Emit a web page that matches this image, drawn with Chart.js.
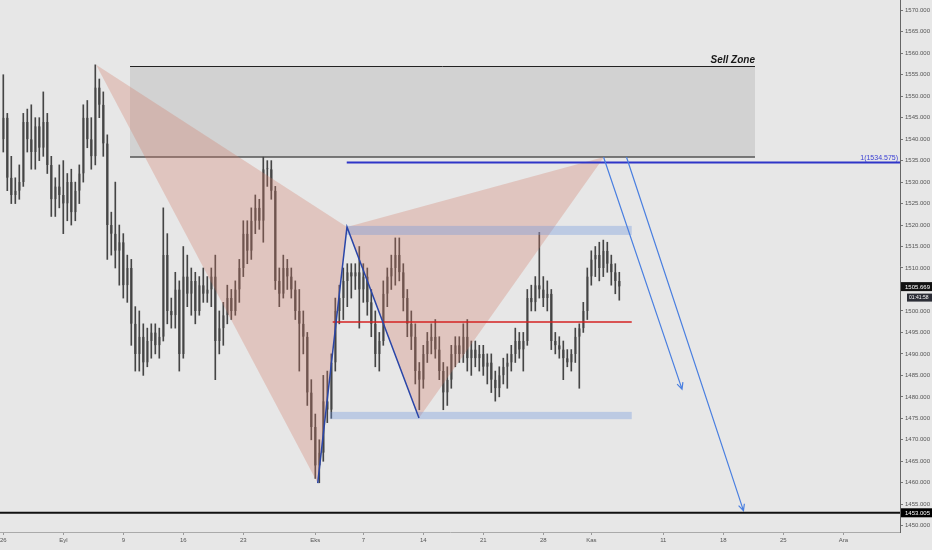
<!DOCTYPE html>
<html>
<head>
<meta charset="utf-8">
<script src="https://cdn.jsdelivr.net/npm/chart.js@4.4.1/dist/chart.umd.min.js"></script>
<style>
    html, body {margin: 0; padding: 0; background: #e7e7e7;}
    #chart {display: block;}
</style>
</head>
<body>
<canvas id="chart" width="932" height="550"></canvas>
<script>
// Свечи XAUUSD, по 3 на торговый день (индекс дня от 26 авг.)
const opens = [
    1540,1545,1531,1527,1528,1530,1544,1540,1537,1543,
    1538,1544,1534,1526,1529,1527,1525,1530,1523,1528,
    1532,1545,1540,1536,1552,1548,1539,1520,1518,1514,
    1516,1506,1510,1497,1490,1494,1488,1493,1495,1492,
    1494,1513,1500,1499,1505,1490,1508,1504,1507,1500,
    1506,1504,1505,1508,1493,1496,1499,1503,1500,1505,
    1510,1518,1514,1521,1524,1521,1533,1533,1528,1507,
    1504,1510,1508,1505,1500,1497,1494,1481,1473,1464,
    1467,1479,1477,1488,1500,1503,1507,1509,1508,1509,
    1505,1508,1502,1497,1490,1493,1504,1508,1510,1513,
    1509,1503,1497,1494,1486,1484,1490,1493,1494,1491,
    1486,1481,1484,1490,1492,1490,1494,1489,1491,1489,
    1490,1487,1488,1484,1482,1485,1487,1488,1490,1493,
    1491,1493,1503,1502,1506,1505,1503,1504,1493,1492,
    1491,1489,1488,1490,1494,1496,1500,1508,1512,1513,
    1510,1514,1511,1509,1507
]
const highs = [
    1555,1546,1536,1531,1534,1546,1547,1548,1545,1545,
    1551,1546,1536,1531,1534,1535,1532,1533,1530,1534,
    1548,1549,1545,1557.3,1554,1551,1541,1523,1530,1520,
    1518,1513,1512,1501,1500,1497,1496,1497,1497,1496,
    1524,1518,1503,1509,1507,1515,1513,1510,1509,1508,
    1510,1508,1510,1513,1500,1502,1506,1505,1507,1512,
    1521,1521,1524,1527,1526,1535.8,1535,1535,1529,1510,
    1513,1512,1510,1507,1505,1500,1495,1484,1476,1470,
    1485,1486,1490,1503,1506,1510,1511,1511,1511,1515,
    1511,1510,1505,1500,1495,1507,1510,1513,1517,1517,
    1511,1505,1500,1497,1488,1492,1495,1497,1498,1494,
    1488,1487,1492,1494,1494,1497,1498,1493,1493,1492,
    1492,1490,1490,1486,1487,1489,1490,1492,1496,1495,
    1495,1505,1506,1508,1518.3,1508,1507,1505,1495,1494,
    1493,1491,1491,1496,1497,1502,1510,1514,1515,1516,
    1516.5,1516,1513,1511,1509
]
const lows = [
    1537,1528,1525,1525,1526,1529,1537,1533,1533,1535,
    1536,1532,1522,1522,1524,1518,1521,1520,1521,1525,
    1530,1538,1533,1534,1545,1536,1512,1513,1510,1506,
    1503,1502,1492,1486,1486,1485,1487,1489,1490,1489,
    1493,1497,1496,1496,1486,1489,1501,1499,1497,1499,
    1502,1502,1501,1484,1490,1492,1497,1498,1499,1502,
    1508,1511,1512,1518,1519,1516,1529,1526,1505,1501,
    1503,1505,1503,1498,1486,1490,1478,1470,1461,1460,
    1465,1474,1475,1486,1497,1498,1501,1503,1505,1496,
    1502,1499,1494,1487,1486,1492,1501,1505,1506,1507,
    1500,1494,1491,1483,1477,1482,1488,1490,1489,1484,
    1477,1478,1482,1487,1488,1488,1486,1485,1487,1486,
    1485,1483,1481,1479,1480,1483,1482,1486,1488,1489,
    1486,1492,1500,1500,1503,1501,1500,1491,1490,1489,
    1484,1487,1486,1488,1482,1495,1498,1506,1508,1507,
    1508,1509,1506,1504,1502.5
]
const closes = [
    1545,1531,1527,1528,1530,1544,1540,1537,1543,1538,
    1544,1534,1526,1529,1527,1525,1530,1523,1528,1532,
    1545,1540,1536,1552,1548,1539,1520,1518,1514,1516,
    1506,1510,1497,1490,1494,1488,1493,1495,1492,1494,
    1513,1500,1499,1505,1490,1508,1504,1507,1500,1506,
    1504,1505,1508,1493,1496,1499,1503,1500,1505,1510,
    1518,1514,1521,1524,1521,1533,1533,1528,1507,1504,
    1510,1508,1505,1500,1497,1494,1481,1473,1464,1467,
    1479,1477,1488,1500,1503,1507,1509,1508,1509,1505,
    1508,1502,1497,1490,1493,1504,1508,1510,1513,1509,
    1503,1497,1494,1486,1484,1490,1493,1494,1491,1486,
    1481,1484,1490,1492,1490,1494,1489,1491,1489,1490,
    1487,1488,1484,1482,1485,1487,1488,1490,1493,1491,
    1493,1503,1502,1506,1505,1503,1504,1493,1492,1491,
    1489,1488,1490,1494,1496,1500,1508,1512,1513,1510,
    1514,1511,1509,1507,1505.669
]

// Подписи оси времени (индекс торгового дня)
const xTickDays = [0, 5, 10, 15, 20, 26, 30, 35, 40, 45, 49, 55, 60, 65, 70]
const xTickLabels = ['26', 'Eyl', '9', '16', '23', 'Eks', '7', '14', '21', '28', 'Kas', '11', '18', '25', 'Ara']
const yTickVals = [1450, 1455, 1460, 1465, 1470, 1475, 1480, 1485, 1490, 1495, 1500, 1505, 1510,
    1515, 1520, 1525, 1530, 1535, 1540, 1545, 1550, 1555, 1560, 1565, 1570]

// Разметка: зона продаж, паттерн XABCD, уровни, стрелки
const zoneDays = [10.56, 62.64]
const zonePrices = [1535.84, 1557.03]
const patternDays = [7.73, 26.2, 28.64, 34.64, 50.06]
const patternPrices = [1557.3, 1459.9, 1519.55, 1475.1, 1535.84]
const bandDays = [28.64, 52.37]
const topBand = [1517.7, 1519.8]
const lowBandDays = [27.2, 52.37]
const lowBand = [1474.8, 1476.5]
const redLevel = 1497.4
const redDays = [27.45, 52.37]
const fibLevel = 1534.575
const fibStartDay = 28.62
const targetLevel = 1453.005
const arrows = [
    {from: [50.02, 1535.84], to: [56.56, 1481.8]},
    {from: [51.93, 1535.84], to: [61.68, 1453.5]},
]
const lastPrice = 1505.669
const countdown = '01:41:58'

const candleDays = closes.map((c, i) => i / 3)

const drawings = {
    id: 'drawings',
    beforeDraw(chart) {
        const c = chart.ctx
        c.save()
        c.fillStyle = '#e7e7e7'
        c.fillRect(0, 0, chart.width, chart.height)
        c.restore()
    },
    beforeDatasetsDraw(chart) {
        const {ctx: c, scales: {x, y}} = chart
        const x1 = x.getPixelForValue(zoneDays[0]), x2 = x.getPixelForValue(zoneDays[1])
        const yTop = y.getPixelForValue(zonePrices[1]), yBot = y.getPixelForValue(zonePrices[0])
        c.save()
        c.fillStyle = 'rgba(185,185,185,0.45)'
        c.fillRect(x1, yTop, x2 - x1, yBot - yTop)
        c.strokeStyle = '#222'
        c.lineWidth = 1
        c.beginPath()
        c.moveTo(x1, Math.round(yTop) + 0.5)
        c.lineTo(x2, Math.round(yTop) + 0.5)
        c.stroke()
        c.strokeStyle = '#555'
        c.lineWidth = 1.5
        c.beginPath()
        c.moveTo(x1, yBot)
        c.lineTo(x2, yBot)
        c.stroke()
        c.restore()
    },
    afterDatasetsDraw(chart) {
        const {ctx: c, scales: {x, y}, chartArea} = chart
        const px = i => x.getPixelForValue(patternDays[i])
        const py = i => y.getPixelForValue(patternPrices[i])
        c.save()

        // Треугольники паттерна
        c.fillStyle = 'rgba(210,120,100,0.3)'
        ;[[0, 1, 2], [2, 3, 4]].forEach(tri => {
            c.beginPath()
            c.moveTo(px(tri[0]), py(tri[0]))
            c.lineTo(px(tri[1]), py(tri[1]))
            c.lineTo(px(tri[2]), py(tri[2]))
            c.closePath()
            c.fill()
        })

        // Синие полосы
        c.fillStyle = 'rgba(110,150,220,0.35)'
        let bx1 = x.getPixelForValue(bandDays[0]), bx2 = x.getPixelForValue(bandDays[1])
        let by1 = y.getPixelForValue(topBand[1]), by2 = y.getPixelForValue(topBand[0])
        c.fillRect(bx1, by1, bx2 - bx1, by2 - by1)
        bx1 = x.getPixelForValue(lowBandDays[0])
        bx2 = x.getPixelForValue(lowBandDays[1])
        by1 = y.getPixelForValue(lowBand[1])
        by2 = y.getPixelForValue(lowBand[0])
        c.fillRect(bx1, by1, bx2 - bx1, by2 - by1)

        // Красный уровень
        c.strokeStyle = '#d42222'
        c.lineWidth = 1.5
        c.beginPath()
        c.moveTo(x.getPixelForValue(redDays[0]), y.getPixelForValue(redLevel))
        c.lineTo(x.getPixelForValue(redDays[1]), y.getPixelForValue(redLevel))
        c.stroke()

        // Линии A-B-C
        c.strokeStyle = '#2a46a8'
        c.lineWidth = 1.5
        c.beginPath()
        c.moveTo(px(1), py(1))
        c.lineTo(px(2), py(2))
        c.lineTo(px(3), py(3))
        c.stroke()

        // Уровень 1(1534.575)
        const fy = y.getPixelForValue(fibLevel)
        c.strokeStyle = '#2f35c8'
        c.lineWidth = 2
        c.beginPath()
        c.moveTo(x.getPixelForValue(fibStartDay), fy)
        c.lineTo(chartArea.right, fy)
        c.stroke()
        c.fillStyle = '#3b40d4'
        c.font = '7px "Liberation Sans", Arial, sans-serif'
        c.textAlign = 'right'
        c.textBaseline = 'alphabetic'
        c.fillText('1(' + fibLevel.toFixed(3) + ')', chartArea.right - 2, fy - 2)

        // Стрелки
        c.strokeStyle = '#4a7fe0'
        c.lineWidth = 1.2
        arrows.forEach(a => {
            const ax = x.getPixelForValue(a.from[0]), ay = y.getPixelForValue(a.from[1])
            const bx = x.getPixelForValue(a.to[0]), by = y.getPixelForValue(a.to[1])
            const ang = Math.atan2(by - ay, bx - ax)
            c.beginPath()
            c.moveTo(ax, ay)
            c.lineTo(bx, by)
            c.moveTo(bx - 7 * Math.cos(ang - 0.45), by - 7 * Math.sin(ang - 0.45))
            c.lineTo(bx, by)
            c.lineTo(bx - 7 * Math.cos(ang + 0.45), by - 7 * Math.sin(ang + 0.45))
            c.stroke()
        })

        // Цель 1453.005
        const ty = y.getPixelForValue(targetLevel)
        c.strokeStyle = '#111'
        c.lineWidth = 2
        c.beginPath()
        c.moveTo(chartArea.left, ty)
        c.lineTo(chartArea.right, ty)
        c.stroke()

        // Подпись зоны
        c.fillStyle = '#1a1a1a'
        c.font = 'italic bold 10px "Liberation Sans", Arial, sans-serif'
        c.textAlign = 'right'
        c.fillText('Sell Zone', x.getPixelForValue(zoneDays[1]), y.getPixelForValue(zonePrices[1]) - 3)
        c.restore()
    },
    afterDraw(chart) {
        const {ctx: c, scales: {y}, chartArea} = chart
        const left = chartArea.right
        c.save()
        c.textBaseline = 'middle'
        c.textAlign = 'left'
        const box = (val, text, bg, x0, h, size, pad) => {
            c.font = size + 'px "Liberation Sans", Arial, sans-serif'
            c.fillStyle = bg
            c.fillRect(x0, val - h / 2, chart.width - x0, h)
            c.fillStyle = '#fff'
            c.fillText(text, x0 + pad, val + 0.5)
        }
        const ly = y.getPixelForValue(lastPrice)
        box(ly, lastPrice.toFixed(3), '#111', left + 1, 9, 6, 4)
        box(ly + 11, countdown, '#2b2d36', left + 7, 8, 5, 2)
        box(y.getPixelForValue(targetLevel), targetLevel.toFixed(3), '#000', left + 1, 9, 6, 4)
        c.restore()
    }
}

const ctx = document.getElementById('chart').getContext('2d')
new Chart(ctx, {
    type: 'bar',
    data: {
        datasets: [{
            label: 'wicks',
            data: candleDays.map((d, i) => ({x: d, y: [lows[i], highs[i]]})),
            backgroundColor: '#454545',
            barThickness: 1,
            grouped: false,
        }, {
            label: 'bodies',
            data: candleDays.map((d, i) => ({x: d, y: [opens[i], closes[i]]})),
            backgroundColor: closes.map((c, i) => c >= opens[i] ? '#8c8c8c' : '#3a3a3a'),
            borderColor: '#2e2e2e',
            borderWidth: {left: 0, right: 1, top: 0, bottom: 0},
            barThickness: 2,
            minBarLength: 1,
            grouped: false,
        }]
    },
    options: {
        responsive: false,
        animation: false,
        devicePixelRatio: 1,
        layout: {padding: 0},
        plugins: {legend: {display: false}, tooltip: {enabled: false}},
        scales: {
            x: {
                type: 'linear',
                position: 'bottom',
                min: -0.275,
                max: 74.725,
                offset: false,
                afterBuildTicks: s => { s.ticks = xTickDays.map(v => ({value: v})) },
                afterFit: s => { s.height = 18; s.paddingLeft = 0; s.paddingRight = 0 },
                ticks: {
                    autoSkip: false,
                    maxRotation: 0,
                    padding: 2,
                    color: '#555',
                    font: {size: 6, family: '"Liberation Sans", Arial, sans-serif'},
                    callback: v => xTickLabels[xTickDays.indexOf(v)] ?? ''
                },
                grid: {drawOnChartArea: false, offset: false, tickLength: 3, color: '#999'},
                border: {color: '#aaa'}
            },
            y: {
                position: 'right',
                min: 1448.533,
                max: 1572.398,
                afterBuildTicks: s => { s.ticks = yTickVals.map(v => ({value: v})) },
                afterFit: s => { s.width = 32; s.paddingTop = 0; s.paddingBottom = 0 },
                ticks: {
                    autoSkip: false,
                    padding: 2,
                    color: '#555',
                    font: {size: 6, family: '"Liberation Sans", Arial, sans-serif'},
                    callback: v => v.toFixed(3)
                },
                grid: {drawOnChartArea: false, tickLength: 3, color: '#777'},
                border: {color: '#666'}
            }
        }
    },
    plugins: [drawings]
})
</script>
</body>
</html>
